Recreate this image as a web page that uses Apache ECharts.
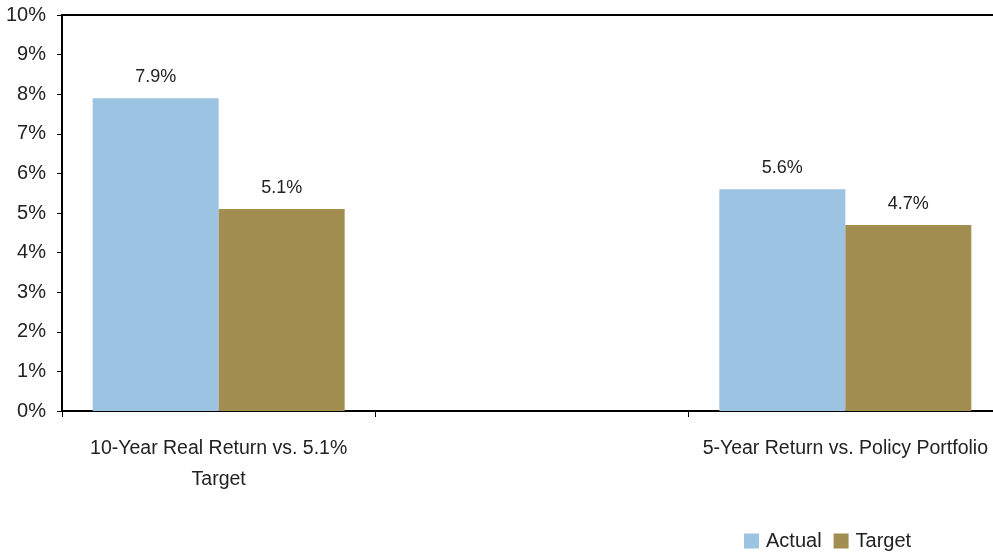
<!DOCTYPE html>
<html><head><meta charset="utf-8">
<script src="https://cdn.jsdelivr.net/npm/echarts@6/dist/echarts.min.js"></script>
<style>html,body{margin:0;padding:0;background:#fff;overflow:hidden}#c{width:1012px;height:552px}</style>
</head><body><div id="c"></div>
<script>
const categories = ['10-Year Real Return vs. 5.1%\nTarget', '', '5-Year Return vs. Policy Portfolio'];
const actual = [7.9, null, 5.6];
const target = [5.1, null, 4.7];
const seriesNames = ['Actual', 'Target'];
const yTicks = {min: 0, max: 10, interval: 1};

const FONT = "'Liberation Sans', Arial, sans-serif";
const chart = echarts.init(document.getElementById('c'));
const lbl = {show: true, position: 'top', distance: 12, color: '#222', fontFamily: FONT, fontSize: 18,
  formatter: p => p.value == null ? '' : p.value.toFixed(1) + '%'};
chart.setOption({
  animation: false,
  textStyle: {fontFamily: FONT},
  grid: {left: 62, top: 15, width: 940, height: 396, show: true, borderColor: '#000', borderWidth: 2, backgroundColor: 'transparent'},
  legend: {left: 744, top: 531, padding: 0, itemWidth: 15, itemHeight: 15, itemGap: 12, icon: 'rect',
    textStyle: {fontFamily: FONT, fontSize: 20, color: '#222', padding: [0,0,0,2]}, data: seriesNames},
  xAxis: {type: 'category', data: categories,
    axisLine: {lineStyle: {color: '#000', width: 2}},
    axisTick: {show: true, length: 6, lineStyle: {color: '#000', width: 1}},
    axisLabel: {fontFamily: FONT, fontSize: 19.5, color: '#222', margin: 22, lineHeight: 31, interval: 0}},
  yAxis: {type: 'value', min: yTicks.min, max: yTicks.max, interval: yTicks.interval,
    axisLine: {show: true, lineStyle: {color: '#000', width: 2}},
    axisTick: {show: true, length: 5, lineStyle: {color: '#000', width: 1}},
    splitLine: {show: false},
    axisLabel: {fontFamily: FONT, fontSize: 20, color: '#222', margin: 16, formatter: v => v + '%'}},
  series: [
    {name: seriesNames[0], type: 'bar', data: actual, barWidth: 126, barGap: '0%', itemStyle: {color: '#9DC3E3'}, label: lbl},
    {name: seriesNames[1], type: 'bar', data: target, barWidth: 126, barGap: '0%', itemStyle: {color: '#A18E50'}, label: lbl}
  ]
});
</script></body></html>
